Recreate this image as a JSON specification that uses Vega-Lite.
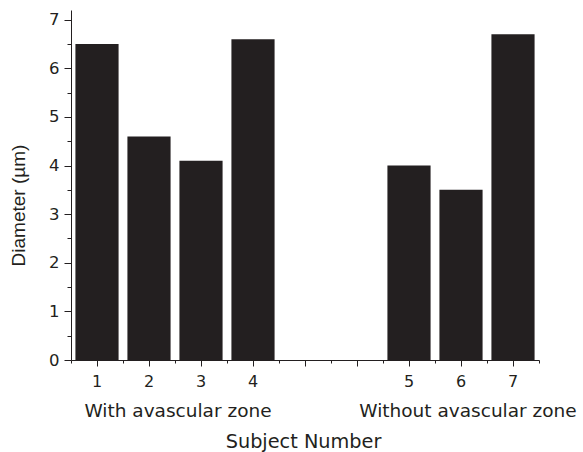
{
  "$schema": "https://vega.github.io/schema/vega-lite/v6.json",
  "width": 468,
  "height": 350,
  "autosize": {"type": "none"},
  "padding": {"left": 71, "top": 10, "right": 44, "bottom": 92},
  "background": "white",
  "config": {
    "view": {"stroke": null},
    "font": "DejaVu Sans",
    "axis": {
      "grid": false,
      "domainColor": "#231f20",
      "tickColor": "#231f20",
      "labelColor": "#231f20",
      "titleColor": "#231f20",
      "labelFont": "DejaVu Sans",
      "titleFont": "DejaVu Sans",
      "titleFontWeight": "normal",
      "domainWidth": 1,
      "tickWidth": 1
    }
  },
  "datasets": {
    "bars": [
      {"subject": "1", "group": "With avascular zone", "diameter": 6.5},
      {"subject": "2", "group": "With avascular zone", "diameter": 4.6},
      {"subject": "3", "group": "With avascular zone", "diameter": 4.1},
      {"subject": "4", "group": "With avascular zone", "diameter": 6.6},
      {"subject": "5", "group": "Without avascular zone", "diameter": 4.0},
      {"subject": "6", "group": "Without avascular zone", "diameter": 3.5},
      {"subject": "7", "group": "Without avascular zone", "diameter": 6.7}
    ]
  },
  "layer": [
    {
      "data": {"name": "bars"},
      "mark": {"type": "bar", "color": "#231f20", "width": {"band": 0.83}},
      "encoding": {
        "x": {
          "field": "subject",
          "type": "ordinal",
          "scale": {"domain": ["1", "2", "3", "4", "gap1", "gap2", "5", "6", "7"], "paddingInner": 0, "paddingOuter": 0},
          "axis": {
            "orient": "bottom",
            "labelAngle": 0,
            "labelExpr": "indexof(['gap1','gap2'], datum.value) >= 0 ? '' : datum.value",
            "tickSize": 6,
            "labelPadding": 7,
            "labelFontSize": 16,
            "title": "Subject Number",
            "titleFontSize": 19.3,
            "titleBaseline": "alphabetic",
            "titleY": 87,
            "titleX": 232
          }
        },
        "y": {
          "field": "diameter",
          "type": "quantitative",
          "scale": {"domain": [0, 7.2], "nice": false},
          "axis": {
            "orient": "left",
            "values": [0, 1, 2, 3, 4, 5, 6, 7],
            "tickSize": 7,
            "labelPadding": 5,
            "labelFontSize": 16.5,
            "title": "Diameter (µm)",
            "titleFont": "Liberation Sans",
            "titleFontSize": 19,
            "titleAngle": -90,
            "titleBaseline": "middle",
            "titleX": -53,
            "titleY": 195
          }
        }
      }
    },
    {
      "data": {"name": "bars"},
      "mark": {"type": "bar", "opacity": 0},
      "encoding": {
        "x": {
          "field": "subject",
          "type": "ordinal",
          "axis": {
            "orient": "bottom",
            "tickBand": "extent",
            "labels": false,
            "domain": false,
            "tickSize": 3,
            "title": null
          }
        },
        "y": {
          "field": "diameter",
          "type": "quantitative",
          "axis": {
            "orient": "left",
            "values": [0.5, 1.5, 2.5, 3.5, 4.5, 5.5, 6.5],
            "labels": false,
            "domain": false,
            "tickSize": 4,
            "title": null
          }
        }
      }
    },
    {
      "data": {"values": [{"label": "With avascular zone", "anchor": "2"}]},
      "mark": {"type": "text", "font": "DejaVu Sans", "fontSize": 18.5, "color": "#231f20", "baseline": "alphabetic", "align": "center", "dy": 57, "dx": 3},
      "encoding": {
        "x": {"field": "anchor", "type": "ordinal", "bandPosition": 1, "axis": null},
        "y": {"datum": 0, "type": "quantitative", "axis": null},
        "text": {"field": "label"}
      }
    },
    {
      "data": {"values": [{"label": "Without avascular zone", "anchor": "6"}]},
      "mark": {"type": "text", "font": "DejaVu Sans", "fontSize": 18.5, "color": "#231f20", "baseline": "alphabetic", "align": "center", "dy": 57, "dx": 7},
      "encoding": {
        "x": {"field": "anchor", "type": "ordinal", "bandPosition": 0.5, "axis": null},
        "y": {"datum": 0, "type": "quantitative", "axis": null},
        "text": {"field": "label"}
      }
    }
  ],
  "resolve": {"axis": {"x": "independent", "y": "independent"}}
}
